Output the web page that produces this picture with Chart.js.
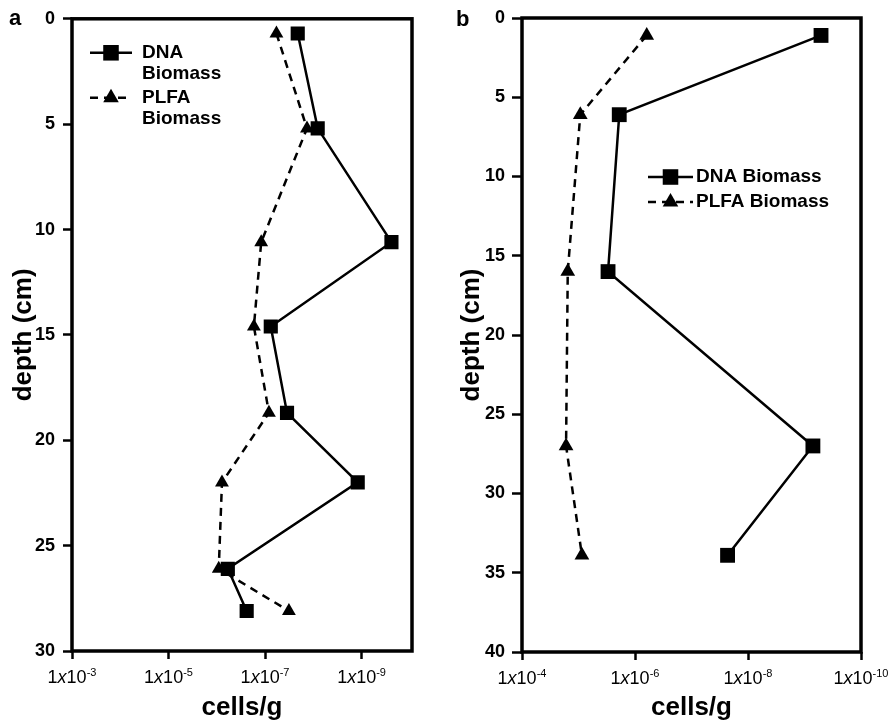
<!DOCTYPE html>
<html>
<head>
<meta charset="utf-8">
<script src="https://cdn.jsdelivr.net/npm/chart.js@4.4.0/dist/chart.umd.min.js"></script>
<style>
  body { margin: 0; background: #fff; }
  #wrap { position: relative; width: 893px; height: 723px; }
  canvas { position: absolute; top: 0; }
</style>
</head>
<body>
<div id="wrap">
  <canvas id="chartA" width="440" height="723" style="left:0px"></canvas>
  <canvas id="chartB" width="453" height="723" style="left:440px"></canvas>
</div>
<script>
// panel a - sampling depths (cm) and biomass values
const depthA = [0.7, 5.2, 10.6, 14.6, 18.7, 22.0, 26.1, 28.1];
const dnaA = [2.1e-8, 8.1e-9, 2.4e-10, 7.6e-8, 3.5e-8, 1.2e-9, 5.9e-7, 2.4e-7];
const plfaA = [5.8e-8, 1.35e-8, 1.2e-7, 1.7e-7, 8.3e-8, 7.8e-7, 9.1e-7, 3.2e-8];
const xTicksA = [1e-3, 1e-5, 1e-7, 1e-9];

// panel b
const depthB = [1.1, 6.1, 16.0, 27.0, 33.9];
const dnaB = [5.1e-10, 1.9e-6, 3.0e-6, 7.1e-10, 2.3e-8];
const plfaB = [6.2e-7, 9.3e-6, 1.55e-5, 1.66e-5, 8.7e-6];
const xTicksB = [1e-4, 1e-6, 1e-8, 1e-10];

const seriesNames = ['DNA Biomass', 'PLFA Biomass'];

const FONT = '"Liberation Sans", Arial, Helvetica, sans-serif';
Chart.defaults.font.family = FONT;
Chart.defaults.color = '#000';

function toPoints(xs, ys) {
  return xs.map((v, i) => ({ x: v, y: ys[i] }));
}

// box around the plot + panel letter
const framePlugin = {
  id: 'frame',
  beforeDatasetsDraw(chart, args, opts) {
    const ctx = chart.ctx;
    const a = chart.chartArea;
    ctx.save();
    ctx.strokeStyle = '#000';
    ctx.lineWidth = 3.5;
    ctx.strokeRect(a.left, a.top, a.right - a.left, a.bottom - a.top);
    ctx.restore();
  },
  afterDraw(chart, args, opts) {
    const ctx = chart.ctx;
    ctx.save();
    ctx.fillStyle = '#000';
    ctx.font = 'bold ' + opts.size + 'px ' + FONT;
    ctx.textBaseline = 'alphabetic';
    ctx.fillText(opts.text, opts.x, opts.y);
    ctx.restore();
  }
};

// "1x10^-n" tick labels with italic x and superscript
const xLabelPlugin = {
  id: 'xLabels',
  afterDraw(chart, args, opts) {
    const ctx = chart.ctx;
    const xs = chart.scales.x;
    const base = xs.top + 32;
    ctx.save();
    ctx.fillStyle = '#000';
    ctx.textBaseline = 'alphabetic';
    ctx.textAlign = 'left';
    xs.ticks.forEach(t => {
      const exp = Math.round(Math.log10(t.value));
      const parts = [
        { s: '1', f: '18px ' + FONT, dy: 0 },
        { s: 'x', f: 'italic 18px ' + FONT, dy: 0 },
        { s: '10', f: '18px ' + FONT, dy: 0 },
        { s: String(exp), f: '11px ' + FONT, dy: -7 }
      ];
      let total = 0;
      parts.forEach(p => { ctx.font = p.f; p.w = ctx.measureText(p.s).width; total += p.w; });
      let x = xs.getPixelForValue(t.value) - total / 2;
      parts.forEach(p => {
        ctx.font = p.f;
        ctx.fillText(p.s, x, base + p.dy);
        x += p.w;
      });
    });
    ctx.restore();
  }
};

// legend drawn inside the plot
const legendPlugin = {
  id: 'boxLegend',
  afterDraw(chart, args, opts) {
    const ctx = chart.ctx;
    const a = chart.chartArea;
    ctx.save();
    chart.data.datasets.forEach((ds, i) => {
      const row = opts.rows[i];
      const x0 = a.left + opts.x;
      const y = a.top + row.y;
      ctx.strokeStyle = '#000';
      ctx.lineWidth = 2.5;
      ctx.setLineDash(ds.borderDash || []);
      ctx.beginPath();
      ctx.moveTo(x0, y);
      ctx.lineTo(x0 + opts.len, y);
      ctx.stroke();
      ctx.setLineDash([]);
      ctx.fillStyle = '#000';
      Chart.helpers.drawPoint(ctx, {
        pointStyle: ds.pointStyle,
        radius: row.r,
        rotation: 0,
        borderWidth: 0
      }, x0 + opts.len / 2, y);
      ctx.font = 'bold ' + opts.size + 'px ' + FONT;
      ctx.textBaseline = 'middle';
      ctx.textAlign = 'left';
      row.lines.forEach((txt, k) => {
        ctx.fillText(txt, x0 + opts.len + opts.gap, y + k * opts.lineGap);
      });
    });
    ctx.restore();
  }
};

function makeDatasets(depth, dna, plfa, sq, tri) {
  return [
    {
      label: seriesNames[0],
      data: toPoints(dna, depth),
      showLine: true,
      borderColor: '#000',
      backgroundColor: '#000',
      borderWidth: 2.5,
      pointStyle: 'rect',
      pointRadius: sq,
      pointBorderWidth: 0,
      tension: 0
    },
    {
      label: seriesNames[1],
      data: toPoints(plfa, depth),
      showLine: true,
      borderColor: '#000',
      backgroundColor: '#000',
      borderWidth: 2.5,
      borderDash: [8, 6],
      pointStyle: 'triangle',
      pointRadius: tri,
      pointBorderWidth: 0,
      tension: 0
    }
  ];
}

function makeChart(id, cfg) {
  return new Chart(document.getElementById(id), {
    type: 'scatter',
    data: { datasets: makeDatasets(cfg.depth, cfg.dna, cfg.plfa, cfg.sq, cfg.tri) },
    options: {
      responsive: false,
      animation: false,
      devicePixelRatio: 1,
      layout: { padding: { top: 18, right: cfg.padRight, left: 0, bottom: 0 } },
      plugins: {
        legend: { display: false },
        tooltip: { enabled: false },
        frame: cfg.label,
        boxLegend: cfg.legend
      },
      scales: {
        x: {
          type: 'logarithmic',
          reverse: true,
          min: cfg.xMin,
          max: cfg.xMax,
          afterBuildTicks: s => { s.ticks = cfg.xTicks.map(v => ({ value: v })); },
          afterFit: s => { s.height = cfg.xHeight; },
          ticks: { display: false },
          border: { display: false },
          grid: { drawOnChartArea: false, tickLength: 8, tickWidth: 2.5, tickColor: '#000' },
          title: {
            display: true,
            text: 'cells/g',
            font: { size: 26, weight: 'bold' },
            padding: { top: 0, bottom: 0 }
          }
        },
        y: {
          type: 'linear',
          reverse: true,
          min: 0,
          max: cfg.yMax,
          afterFit: s => { s.width = cfg.yWidth; },
          ticks: { stepSize: 5, padding: cfg.tickPad, font: { size: cfg.yFont, weight: 'bold' } },
          border: { display: false },
          grid: { drawOnChartArea: false, tickLength: cfg.tickLen, tickWidth: 2.5, tickColor: '#000' },
          title: {
            display: true,
            text: 'depth (cm)',
            font: { size: 26, weight: 'bold' },
            padding: { top: cfg.titlePad, bottom: 0 }
          }
        }
      }
    },
    plugins: [framePlugin, xLabelPlugin, legendPlugin]
  });
}

makeChart('chartA', {
  depth: depthA, dna: dnaA, plfa: plfaA, xTicks: xTicksA,
  xMin: 9e-11, xMax: 1e-3, yMax: 30,
  sq: 10, tri: 8,
  padRight: 28, xHeight: 72, yWidth: 72,
  tickLen: 9, tickPad: 8, yFont: 18, titlePad: 8,
  label: { text: 'a', x: 9, y: 25, size: 22 },
  legend: {
    x: 18, len: 42, gap: 10, size: 19, lineGap: 21,
    rows: [
      { y: 34, r: 11, lines: ['DNA', 'Biomass'] },
      { y: 79, r: 9, lines: ['PLFA', 'Biomass'] }
    ]
  }
});

makeChart('chartB', {
  depth: depthB, dna: dnaB, plfa: plfaB, xTicks: xTicksB,
  xMin: 1e-10, xMax: 1e-4, yMax: 40,
  sq: 10.5, tri: 8.5,
  padRight: 32, xHeight: 71, yWidth: 82,
  tickLen: 10, tickPad: 7, yFont: 18, titlePad: 16,
  label: { text: 'b', x: 16, y: 26, size: 22 },
  legend: {
    x: 126, len: 45, gap: 3, size: 19, lineGap: 0,
    rows: [
      { y: 159, r: 11, lines: ['DNA Biomass'] },
      { y: 184, r: 9, lines: ['PLFA Biomass'] }
    ]
  }
});
</script>
</body>
</html>
